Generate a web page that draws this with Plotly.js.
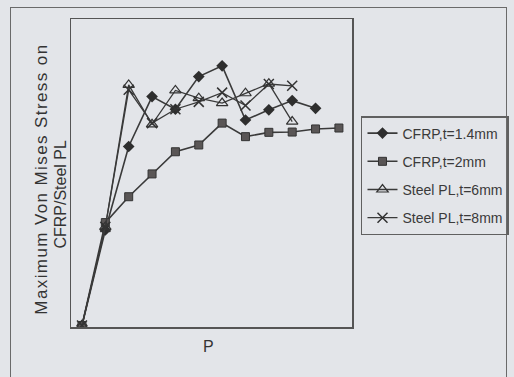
<!DOCTYPE html>
<html>
<head>
<meta charset="utf-8">
<script src="https://cdn.plot.ly/plotly-3.0.1.min.js"></script>
<style>
html,body{margin:0;padding:0;background:#e3e5e9;width:514px;height:377px;overflow:hidden;}
#frame{position:absolute;left:10px;top:7px;width:497px;height:380px;border:1.5px solid #6a6a6a;box-sizing:border-box;}
#chart{position:absolute;left:0;top:0;width:514px;height:377px;}
</style>
</head>
<body>
<div id="frame"></div>
<div id="chart"></div>
<script>
// Load steps (P), no tick labels in the original
const stepsCFRP14 = [0,1,2,3,4,5,6,7,8,9,10];
const stepsCFRP2  = [0,1,2,3,4,5,6,7,8,9,10,11];
const stepsSteel6 = [0,1,2,3,4,5,6,7,8,9];
const stepsSteel8 = [0,1,2,3,4,5,6,7,8,9];

// Maximum Von Mises stress (relative units)
const cfrp14 = [0.5, 31.5, 58.6, 74.8, 70.7, 81.3, 84.8, 67.2, 70.5, 73.5, 71.0];
const cfrp2  = [0.5, 33.9, 42.3, 49.7, 56.9, 59.1, 66.2, 61.8, 63.2, 63.3, 64.3, 64.6];
const steel6 = [0.5, 32.5, 78.6, 65.8, 76.8, 74.3, 72.7, 75.9, 79.0, 66.7];
const steel8 = [0.5, 32.5, 77.0, 66.2, 70.7, 73.1, 76.1, 71.9, 78.9, 78.3];

const names = ['CFRP,t=1.4mm','CFRP,t=2mm','Steel PL,t=6mm','Steel PL,t=8mm'];

const lineCol = '#3a3a3a';
const font = 'Liberation Sans, Arial, sans-serif';

const traces = [
  {x: stepsCFRP14, y: cfrp14, name: names[0], legendgroup:'a', mode:'lines+markers',
   line:{color:lineCol, width:1.6}, marker:{symbol:'diamond', size:9, color:'#2e2e2e'}},
  {x: stepsCFRP2, y: cfrp2, name: names[1], legendgroup:'b', mode:'lines+markers',
   line:{color:lineCol, width:1.6}, marker:{symbol:'square', size:8, color:'#5a5656', line:{color:'#333', width:1}}},
  {x: stepsSteel6, y: steel6, name: names[2], legendgroup:'c', mode:'lines+markers',
   line:{color:lineCol, width:1.3}, marker:{symbol:'triangle-up-open', size:10, color:'#333', line:{width:1.2}}},
  {x: stepsSteel8, y: steel8, name: names[3], legendgroup:'d', mode:'lines+markers',
   line:{color:lineCol, width:1.3}, marker:{symbol:'x-thin-open', size:10, color:'#333', line:{width:1.5, color:'#333'}}}
];

const layout = {
  width: 514, height: 377,
  margin: {l:71, r:162, t:19, b:50, autoexpand:false},
  paper_bgcolor: 'rgba(0,0,0,0)',
  plot_bgcolor: 'rgba(0,0,0,0)',
  font: {family: font, color:'#3a3a3a'},
  showlegend: true,
  legend: {x:1.5587, y:0.685, xanchor:'right', yanchor:'top',
    bordercolor:'#606060', borderwidth:1.5, bgcolor:'rgba(0,0,0,0)',
    font:{size:14, family:font, color:'#3a3a3a'}, tracegroupgap:7, itemwidth:30},
  xaxis: {range:[-0.47, 11.56], showgrid:false, zeroline:false, showticklabels:false, ticks:'',
    showline:true, mirror:true, linecolor:'#555', linewidth:1.5},
  yaxis: {range:[0, 100], showgrid:false, zeroline:false, showticklabels:false, ticks:'',
    showline:true, mirror:true, linecolor:'#555', linewidth:1.5},
  annotations: [
    {text:'P', xref:'paper', yref:'paper', x:0.491, y:0, yshift:-19, showarrow:false,
     xanchor:'center', yanchor:'middle', font:{size:16, family:font, color:'#333'}},
    {text:'Maximum Von Mises Stress on', xref:'paper', yref:'paper', x:0, xshift:-29, y:0.478,
     textangle:-90, showarrow:false, xanchor:'center', yanchor:'middle',
     font:{size:17, family:font, color:'#333'}},
    {text:'CFRP/Steel PL', xref:'paper', yref:'paper', x:0, xshift:-10, y:0.43,
     textangle:-90, showarrow:false, xanchor:'center', yanchor:'middle',
     font:{size:16, family:font, color:'#333'}}
  ]
};

Plotly.newPlot('chart', traces, layout, {displayModeBar:false, staticPlot:true}).then(function(){
  const anns = document.querySelectorAll('#chart .annotation-text');
  if (anns[1]) anns[1].style.letterSpacing = '1.4px';
});
</script>
</body>
</html>
